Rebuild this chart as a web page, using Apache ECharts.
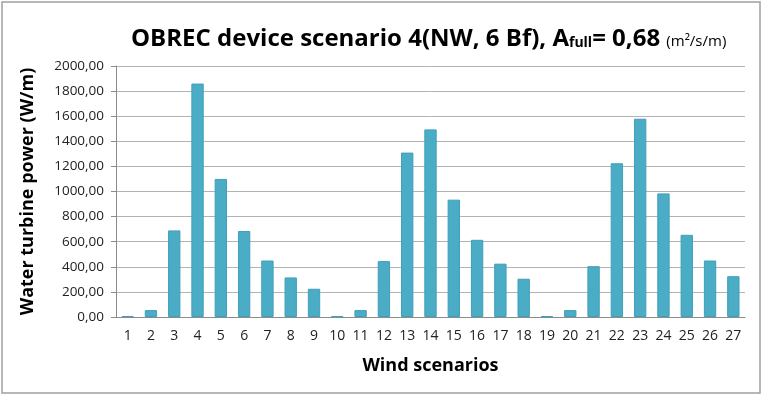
<!DOCTYPE html>
<html>
<head>
<meta charset="utf-8">
<script src="https://cdn.jsdelivr.net/npm/echarts@6/dist/echarts.min.js"></script>
<style>
  html, body { margin: 0; padding: 0; background: #fff; }
  #chart { width: 765px; height: 397px; }
</style>
</head>
<body>
<div id="chart"></div>
<script>
// wind scenarios 1..27
var scenarios = ['1', '2', '3', '4', '5', '6', '7', '8', '9', '10', '11', '12', '13', '14',
  '15', '16', '17', '18', '19', '20', '21', '22', '23', '24', '25', '26', '27'];
// water turbine power (W/m)
var power = [8, 55, 690, 1860, 1100, 685, 450, 315, 225, 6, 55, 445, 1310, 1495,
  935, 615, 425, 305, 5, 55, 405, 1225, 1580, 985, 655, 450, 325];

var chart = echarts.init(document.getElementById('chart'));

var fontFam = '"Open Sans", "DejaVu Sans", sans-serif';

var option = {
  animation: false,
  backgroundColor: '#fff',
  textStyle: { fontFamily: fontFam },
  graphic: [
    {
      type: 'rect',
      shape: { x: 2, y: 2, width: 758, height: 391 },
      style: { fill: 'none', stroke: '#a0a0a0', lineWidth: 1.5 },
      silent: true
    }
  ],
  title: {
    text: '{a|OBREC device scenario 4(NW, 6 Bf), A}{s|full}{a|= 0,68 }{u|(m²/s/m)}',
    left: 126,
    top: 22,
    textStyle: {
      rich: {
        a: { fontSize: 24, fontWeight: 'bold', color: '#000', fontFamily: fontFam },
        s: { fontSize: 14, fontWeight: 'bold', color: '#000', fontFamily: fontFam, padding: [9, 0, 0, 0] },
        u: { fontSize: 15, fontWeight: 'normal', color: '#000', fontFamily: fontFam, padding: [6, 0, 0, 0] }
      }
    }
  },
  grid: {
    left: 116,
    right: 20,
    top: 66,
    bottom: 80,
    containLabel: false
  },
  xAxis: {
    type: 'category',
    data: scenarios,
    name: 'Wind scenarios',
    nameLocation: 'middle',
    nameGap: 40,
    nameTextStyle: { fontSize: 18, fontWeight: 'bold', color: '#000', fontFamily: fontFam },
    axisLine: { lineStyle: { color: '#8c8c8c', width: 1 } },
    axisTick: { show: false },
    axisLabel: { color: '#222', fontSize: 14, margin: 12, fontFamily: fontFam }
  },
  yAxis: {
    type: 'value',
    min: 0,
    max: 2000,
    interval: 200,
    name: 'Water turbine power (W/m)',
    nameLocation: 'middle',
    nameRotate: 90,
    nameGap: 79,
    nameTextStyle: { fontSize: 18, fontWeight: 'bold', color: '#000', fontFamily: fontFam },
    axisLine: { show: true, lineStyle: { color: '#8c8c8c', width: 1 } },
    axisTick: { show: true, length: 5, lineStyle: { color: '#8c8c8c' } },
    axisLabel: {
      color: '#222',
      fontSize: 13.5,
      margin: 12,
      fontFamily: fontFam,
      formatter: function (v) {
        return v.toFixed(2).replace('.', ',');
      }
    },
    splitLine: { lineStyle: { color: '#b3b3b3', width: 1 } }
  },
  series: [
    {
      name: 'Water turbine power',
      type: 'bar',
      data: power,
      barWidth: '53%',
      itemStyle: {
        color: '#4BACC6',
        borderColor: '#3f9fba',
        borderWidth: 1
      }
    }
  ]
};

chart.setOption(option);
</script>
</body>
</html>
